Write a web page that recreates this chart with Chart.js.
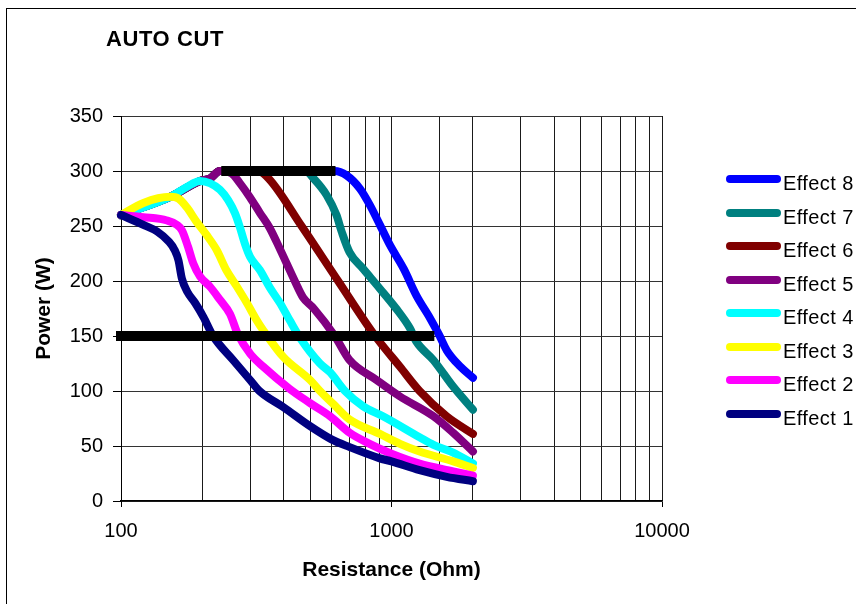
<!DOCTYPE html>
<html>
<head>
<meta charset="utf-8">
<title>AUTO CUT</title>
<script src="https://cdn.jsdelivr.net/npm/chart.js@4.4.1/dist/chart.umd.min.js"></script>
<style>
  body { margin: 0; background: #fff; font-family: "Liberation Sans", Arial, sans-serif; }
  .wrap { position: relative; width: 856px; height: 604px; overflow: hidden; background: #fff; }
  .frame { position: absolute; left: 6px; top: 8px; right: -20px; bottom: -20px; border-left: 1px solid #000; border-top: 1px solid #000; }
  canvas { position: absolute; left: 0; top: 0; }
  .title { position: absolute; left: 106px; top: 28px; font-size: 22px; line-height: 22px; font-weight: bold; letter-spacing: 0.6px; color: #000; }
  .legend { position: absolute; left: 726px; top: 171px; }
  .legend .row { position: absolute; left: 0; height: 24px; white-space: nowrap; }
  .legend .swatch { position: absolute; left: 0; top: 4px; width: 55px; height: 8px; border-radius: 4px; }
  .legend .text { position: absolute; left: 57px; top: 0; font-size: 20px; line-height: 24px; letter-spacing: 0.4px; color: #000; }
</style>
</head>
<body>
<div class="wrap">
  <div class="frame"></div>
  <canvas id="chart" width="856" height="604"></canvas>
  <div class="title">AUTO CUT</div>
  <div class="legend" id="legend"></div>
</div>
<script>
// valores: [resistencia (Ohm), potencia (W)]
const effect1 = [[100,260],[121,251],[136,245],[150,236],[158,228],[163,219],[168,202],[176,190],[188,180],[202,167],[219,150],[260,128],[300,110],[325,100],[400,85],[500,68],[600,56],[700,49],[900,39],[1000,36],[1270,28],[1600,22],[2000,18]];
const effect2 = [[100,260],[121,258],[148,255],[161,251],[168,246],[177,231],[185,216],[196,204],[213,195],[232,183],[253,170],[270,152],[300,134],[336,122],[420,102],[500,89],[593,77],[700,62],[830,52],[1000,43],[1270,34],[1690,27],[2000,23]];
const effect3 = [[100,260],[121,271],[152,276.5],[163,275],[175,267],[190,254],[207,242],[226,228],[245,210],[268,195],[292,180],[318,164],[336,155],[398,131],[500,110],[544,100],[610,88],[700,74],[906,61],[1075,52],[1270,45],[1690,36],[2000,30]];
const effect4 = [[100,260],[152,276.5],[175,285.5],[196,291],[213,289],[232,283],[249,273.5],[264,261.5],[275,249],[287,234],[300,222],[326,210],[355,194],[387,180],[421,164],[460,148],[544,125],[593,117],[673,100],[786,86],[930,77],[1270,58],[1430,51],[1690,44],[2000,34]];
const effect5 = [[100,260],[152,276.5],[196,291],[213,293],[232,300],[256,298],[275,289],[300,276],[326,262],[355,248],[387,229],[439,200],[471,185],[516,175],[617,150],[700,128],[880,110],[1075,95],[1430,77],[1690,62],[2000,45]];
const effect6 = [[100,260],[152,276.5],[196,291],[213,293],[232,300],[320,300],[352,293],[465,250],[635,200],[870,150],[1075,122],[1270,100],[1600,77],[2000,61]];
const effect7 = [[100,260],[152,276.5],[196,291],[213,293],[232,300],[480,300],[516,293],[576,278],[626,260],[654,245],[700,226],[786,211],[906,193],[1040,175],[1170,157],[1235,145],[1430,128],[1690,104],[2000,83]];
const effect8 = [[100,260],[152,276.5],[196,291],[213,293],[232,300],[616,300],[682,296],[764,284],[832,269],[906,251],[985,233],[1110,211],[1235,187],[1390,166],[1500,151],[1600,137],[1800,122],[2000,112]];

// barras negras de corte (150 W y 300 W)
const cutLow = [[100,150],[1380,150]];
const cutHigh = [[245,300],[595,300]];

const effectNames = ["Effect 1","Effect 2","Effect 3","Effect 4","Effect 5","Effect 6","Effect 7","Effect 8"];
const effectColors = ["#000080","#FF00FF","#FFFF00","#00FFFF","#800080","#800000","#008080","#0000FF"];
const xTickLabels = ["100","1000","10000"];
const yMin = 0, yMax = 350, yStep = 50;

const effects = [effect1, effect2, effect3, effect4, effect5, effect6, effect7, effect8];
const toPoints = (pairs) => pairs.map(([x, y]) => ({ x, y }));
const labelFor = (v) => xTickLabels.find((t) => Math.abs(Number(t) - v) < 1e-6);

Chart.defaults.font.family = '"Liberation Sans", Arial, sans-serif';
Chart.defaults.font.size = 20;
Chart.defaults.color = "#000";

const datasets = [
    { label: "cut150", data: toPoints(cutLow), borderColor: "#000", borderWidth: 10, borderCapStyle: "square", clip: 6 },
    { label: "cut300", data: toPoints(cutHigh), borderColor: "#000", borderWidth: 10, borderCapStyle: "square", clip: 6 },
    ...effects.map((pts, i) => ({
        label: effectNames[i],
        data: toPoints(pts),
        borderColor: effectColors[i],
        backgroundColor: effectColors[i],
        borderWidth: 8,
        borderCapStyle: "round",
        borderJoinStyle: "round",
        cubicInterpolationMode: "monotone",
        clip: 6
    }))
];

new Chart(document.getElementById("chart"), {
    type: "line",
    data: { datasets },
    options: {
        responsive: false,
        animation: false,
        events: [],
        layout: { padding: { left: 0, top: 116, right: 194, bottom: 0 } },
        elements: { point: { radius: 0 } },
        plugins: {
            legend: { display: false },
            tooltip: { enabled: false }
        },
        scales: {
            x: {
                type: "logarithmic",
                min: 100,
                max: 10000,
                afterFit: (scale) => { scale.height = 103; },
                border: { color: "#000", width: 1.5 },
                grid: {
                    color: "#1a1a1a",
                    lineWidth: 1,
                    tickLength: 6,
                    tickColor: (ctx) => (ctx.tick && labelFor(ctx.tick.value) ? "#000" : "rgba(0,0,0,0)")
                },
                ticks: {
                    autoSkip: false,
                    maxRotation: 0,
                    padding: 12,
                    font: { size: 20 },
                    callback: (value) => labelFor(value) || ""
                },
                title: {
                    display: true,
                    text: "Resistance (Ohm)",
                    font: { size: 21, weight: "bold" },
                    padding: { top: 0, bottom: 21 }
                }
            },
            y: {
                min: yMin,
                max: yMax,
                afterFit: (scale) => { scale.width = 121; },
                border: { color: "#000", width: 1 },
                grid: { color: "#333", lineWidth: 1, tickLength: 8, tickColor: "#000" },
                ticks: { stepSize: yStep, padding: 10, font: { size: 20 } },
                title: {
                    display: true,
                    text: "Power (W)",
                    font: { size: 21, weight: "bold" },
                    padding: { top: 32, bottom: 0 }
                }
            }
        }
    }
});

// leyenda a la derecha, Effect 8 arriba
const legendEl = document.getElementById("legend");
for (let k = effectNames.length - 1, row = 0; k >= 0; k--, row++) {
    const item = document.createElement("div");
    item.className = "row";
    item.style.top = (row * 33.57) + "px";
    item.innerHTML = '<span class="swatch" style="background:' + effectColors[k] + '"></span><span class="text">' + effectNames[k] + "</span>";
    legendEl.appendChild(item);
}
</script>
</body>
</html>
